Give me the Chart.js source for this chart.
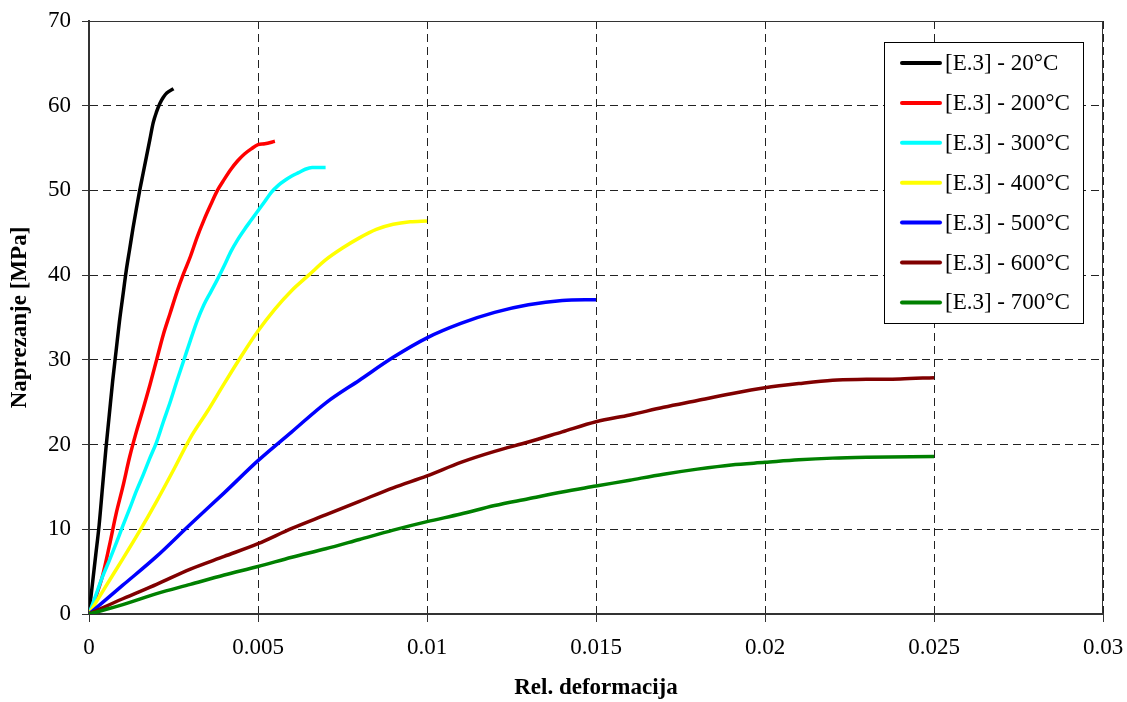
<!DOCTYPE html>
<html>
<head>
<meta charset="utf-8">
<title>Naprezanje - deformacija</title>
<script src="https://cdn.jsdelivr.net/npm/chart.js@4.4.0/dist/chart.umd.min.js"></script>
<style>
    body { margin: 0; background: #fff; }
</style>
</head>
<body>
<canvas id="stressStrainChart" width="1127" height="702"></canvas>
<script>
// Curves (strain [-], stress [MPa])
const strain20 = [0, 0.0001, 0.0002, 0.0003, 0.0004, 0.0005, 0.0006, 0.0007, 0.0008, 0.0009, 0.001, 0.0011, 0.0012, 0.0013, 0.0014, 0.0015, 0.0016, 0.0017, 0.0018, 0.0019, 0.002, 0.0021, 0.0022, 0.0023, 0.0025];
const stress20 = [0, 3.5, 7, 10.5, 15, 19.5, 23.5, 27.5, 31, 34.5, 37.5, 40.5, 43, 45.5, 47.8, 50, 52, 54, 56, 58, 59.3, 60.3, 61, 61.5, 62];

const strain200 = [0, 0.0002, 0.0004, 0.0006, 0.0008, 0.001, 0.0012, 0.0014, 0.0016, 0.0018, 0.002, 0.0022, 0.0024, 0.0026, 0.0028, 0.003, 0.0032, 0.0034, 0.0036, 0.0038, 0.004, 0.0042, 0.0044, 0.0046, 0.0048, 0.005, 0.0052, 0.0055];
const stress200 = [0, 2, 4.5, 8, 11.8, 15, 18.5, 21.5, 24.2, 27, 30, 33, 35.5, 38, 40.2, 42.2, 44.5, 46.5, 48.3, 50, 51.3, 52.5, 53.5, 54.3, 54.9, 55.4, 55.5, 55.8];

const strain300 = [0, 0.0002, 0.0004, 0.0006, 0.0008, 0.001, 0.0012, 0.0014, 0.0016, 0.0018, 0.002, 0.0022, 0.0024, 0.0026, 0.0028, 0.003, 0.0032, 0.0034, 0.0036, 0.0038, 0.004, 0.0042, 0.0044, 0.0046, 0.0048, 0.005, 0.0052, 0.0054, 0.0056, 0.0058, 0.006, 0.0062, 0.0064, 0.0066, 0.0068, 0.007];
const stress300 = [0, 2.2, 4.4, 6.3, 8.3, 10.4, 12.4, 14.5, 16.4, 18.4, 20.3, 22.7, 25, 27.5, 29.9, 32.3, 34.6, 36.5, 38, 39.5, 41.1, 42.8, 44.2, 45.4, 46.5, 47.6, 48.7, 49.8, 50.6, 51.2, 51.7, 52.1, 52.5, 52.7, 52.7, 52.7];

const strain400 = [0, 0.0005, 0.001, 0.0015, 0.002, 0.0025, 0.003, 0.0035, 0.004, 0.0045, 0.005, 0.0055, 0.006, 0.0065, 0.007, 0.0075, 0.008, 0.0085, 0.009, 0.0095, 0.01];
const stress400 = [0, 3.3, 6.5, 9.8, 13.3, 17, 20.8, 23.9, 27.2, 30.4, 33.4, 36, 38.2, 40, 41.8, 43.2, 44.4, 45.4, 46, 46.3, 46.4];

const strain500 = [0, 0.001, 0.002, 0.003, 0.004, 0.005, 0.006, 0.007, 0.008, 0.009, 0.01, 0.011, 0.012, 0.013, 0.014, 0.015];
const stress500 = [0, 3.4, 6.8, 10.6, 14.3, 18.1, 21.5, 24.9, 27.6, 30.3, 32.6, 34.3, 35.6, 36.5, 37, 37.1];

const strain600 = [0, 0.001, 0.002, 0.003, 0.004, 0.005, 0.006, 0.007, 0.008, 0.009, 0.01, 0.011, 0.012, 0.013, 0.014, 0.015, 0.016, 0.017, 0.018, 0.019, 0.02, 0.021, 0.022, 0.023, 0.024, 0.025];
const stress600 = [0, 1.8, 3.5, 5.3, 6.8, 8.3, 10.1, 11.7, 13.3, 14.9, 16.3, 17.9, 19.2, 20.3, 21.5, 22.7, 23.5, 24.4, 25.2, 26, 26.7, 27.2, 27.6, 27.7, 27.75, 27.9];

const strain700 = [0, 0.001, 0.002, 0.003, 0.004, 0.005, 0.006, 0.007, 0.008, 0.009, 0.01, 0.011, 0.012, 0.013, 0.014, 0.015, 0.016, 0.017, 0.018, 0.019, 0.02, 0.021, 0.022, 0.023, 0.025];
const stress700 = [0, 1.1, 2.4, 3.5, 4.6, 5.6, 6.7, 7.7, 8.8, 9.9, 10.9, 11.8, 12.8, 13.6, 14.4, 15.1, 15.8, 16.5, 17.1, 17.6, 17.9, 18.2, 18.4, 18.5, 18.6];

const seriesLabels = ['[E.3] - 20°C', '[E.3] - 200°C', '[E.3] - 300°C', '[E.3] - 400°C', '[E.3] - 500°C', '[E.3] - 600°C', '[E.3] - 700°C'];
const seriesColors = ['#000000', '#ff0000', '#00ffff', '#ffff00', '#0000ff', '#800000', '#008000'];

const xTicks = [0, 0.005, 0.01, 0.015, 0.02, 0.025, 0.03];
const xTickLabels = ['0', '0.005', '0.01', '0.015', '0.02', '0.025', '0.03'];
const yTicks = [0, 10, 20, 30, 40, 50, 60, 70];
const yTickLabels = ['0', '10', '20', '30', '40', '50', '60', '70'];

const serif = "'Liberation Serif', 'Times New Roman', serif";

function toPoints(xs, ys) {
    return xs.map((x, i) => ({ x: x, y: ys[i] }));
}

const curves = [
    toPoints(strain20, stress20),
    toPoints(strain200, stress200),
    toPoints(strain300, stress300),
    toPoints(strain400, stress400),
    toPoints(strain500, stress500),
    toPoints(strain600, stress600),
    toPoints(strain700, stress700)
];

const datasets = curves.map((pts, i) => ({
    label: seriesLabels[i],
    data: pts,
    borderColor: seriesColors[i],
    backgroundColor: seriesColors[i],
    borderWidth: 3.5,
    pointRadius: 0,
    cubicInterpolationMode: 'monotone',
    fill: false,
    order: -i // later series on top, like the original
}));

// solid frame around the plot area (top and right edges are solid too)
const plotFrame = {
    id: 'plotFrame',
    beforeDatasetsDraw(chart) {
        const { ctx, chartArea: a } = chart;
        ctx.save();
        ctx.strokeStyle = '#333';
        ctx.lineWidth = 1;
        ctx.strokeRect(a.left, a.top + 0.5, a.right - a.left - 0.5, a.bottom - a.top);
        ctx.restore();
    }
};

// legend box inside the plot, top right
const boxedLegend = {
    id: 'boxedLegend',
    afterDraw(chart) {
        const { ctx, chartArea: a } = chart;
        const w = 199, h = 281;
        const left = a.right - 20 - w;
        const top = a.top + 21;
        ctx.save();
        ctx.fillStyle = '#fff';
        ctx.fillRect(left, top, w, h);
        ctx.strokeStyle = '#000';
        ctx.lineWidth = 1;
        ctx.strokeRect(left + 0.5, top + 0.5, w, h);
        ctx.font = '23px ' + serif;
        ctx.textBaseline = 'middle';
        ctx.textAlign = 'left';
        chart.data.datasets.forEach((ds, i) => {
            const y = top + 21 + i * 39.9;
            ctx.strokeStyle = ds.borderColor;
            ctx.lineWidth = 4;
            ctx.lineCap = 'round';
            ctx.beginPath();
            ctx.moveTo(left + 18, y);
            ctx.lineTo(left + 56, y);
            ctx.stroke();
            ctx.fillStyle = '#000';
            ctx.fillText(ds.label, left + 61, y + 1);
        });
        ctx.restore();
    }
};

const chartConfig = {
    type: 'line',
    data: { datasets: datasets },
    options: {
        responsive: false,
        animation: false,
        devicePixelRatio: 1,
        layout: {
            padding: { left: 0, right: 24, top: 21, bottom: 0 }
        },
        plugins: {
            legend: { display: false },
            tooltip: { enabled: false }
        },
        scales: {
            x: {
                type: 'linear',
                min: 0,
                max: 0.03,
                afterBuildTicks: scale => { scale.ticks = xTicks.map(v => ({ value: v })); },
                afterFit: scale => {
                    scale.height = 88;
                    scale.paddingLeft = 0;
                    scale.paddingRight = 0;
                },
                ticks: {
                    color: '#000',
                    padding: 12,
                    maxRotation: 0,
                    font: { family: serif, size: 23 },
                    callback: (value, index) => xTickLabels[index]
                },
                grid: {
                    color: '#222',
                    lineWidth: 1,
                    tickLength: 8,
                    tickColor: '#333',
                    tickBorderDash: []
                },
                border: { display: true, color: '#333', width: 2, dash: [8, 5] },
                title: {
                    display: true,
                    text: 'Rel. deformacija',
                    color: '#000',
                    font: { family: serif, size: 23, weight: 'bold' },
                    padding: { top: 0, bottom: 0 }
                }
            },
            y: {
                type: 'linear',
                min: 0,
                max: 70,
                afterBuildTicks: scale => { scale.ticks = yTicks.map(v => ({ value: v })); },
                afterFit: scale => {
                    scale.width = 89;
                    scale.paddingTop = 0;
                    scale.paddingBottom = 0;
                },
                ticks: {
                    color: '#000',
                    padding: 11,
                    font: { family: serif, size: 23 },
                    callback: (value, index) => yTickLabels[index]
                },
                grid: {
                    color: '#222',
                    lineWidth: 1,
                    tickLength: 7,
                    tickColor: '#333',
                    tickBorderDash: []
                },
                border: { display: true, color: '#333', width: 2, dash: [8, 5] },
                title: {
                    display: true,
                    text: 'Naprezanje [MPa]',
                    color: '#000',
                    font: { family: serif, size: 23, weight: 'bold' },
                    padding: { top: 6, bottom: 0 }
                }
            }
        }
    },
    plugins: [plotFrame, boxedLegend]
};

new Chart(document.getElementById('stressStrainChart').getContext('2d'), chartConfig);
</script>
</body>
</html>
